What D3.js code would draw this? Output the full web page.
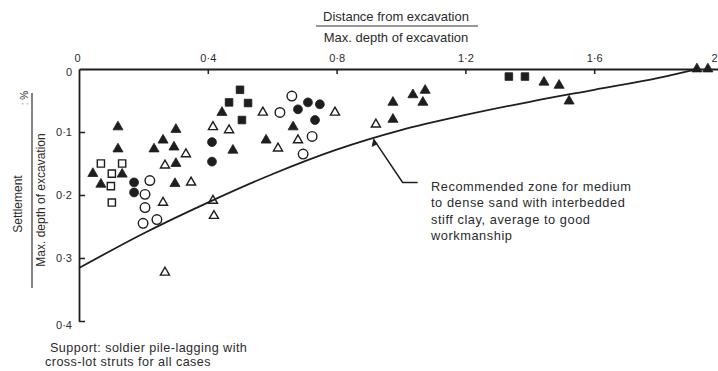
<!DOCTYPE html>
<html>
<head>
<meta charset="utf-8">
<script src="https://cdn.jsdelivr.net/npm/d3@7"></script>
<style>
  html, body { margin: 0; padding: 0; background: #fff; }
  svg { display: block; font-family: "Liberation Sans", Arial, sans-serif; }
  text { fill: #2b2b2b; }
</style>
</head>
<body>
<svg id="chart" width="718" height="371"></svg>
<script>
// Axis ticks (distance ratio along top, settlement % down the left)
const xTickValues = [0, 0.4, 0.8, 1.2, 1.6, 2];
const xTickLabels = ["0", "0·4", "0·8", "1·2", "1·6", "2"];
const yTickValues = [0, 0.1, 0.2, 0.3, 0.4];
const yTickLabels = ["0", "0·1", "0·2", "0·3", "0·4"];

// Observed settlements: [distance / max depth, settlement / max depth (%)]
const filledTriangles = [
  [0.121, 0.092], [0.121, 0.127], [0.043, 0.166], [0.134, 0.167], [0.068, 0.183],
  [0.301, 0.096], [0.261, 0.113], [0.233, 0.127], [0.295, 0.124], [0.301, 0.150],
  [0.298, 0.182], [0.444, 0.069], [0.478, 0.129], [0.581, 0.113], [0.665, 0.092],
  [0.975, 0.053], [0.975, 0.080], [1.037, 0.041], [1.075, 0.034], [1.068, 0.053],
  [1.444, 0.021], [1.491, 0.026], [1.522, 0.051], [1.919, 0.0], [1.953, 0.0]
];
const openTriangles = [
  [0.261, 0.212], [0.332, 0.135], [0.267, 0.153], [0.348, 0.180], [0.267, 0.323],
  [0.416, 0.209], [0.419, 0.233], [0.571, 0.069], [0.416, 0.092], [0.466, 0.097],
  [0.618, 0.126], [0.680, 0.113], [0.795, 0.069], [0.922, 0.088]
];
const filledCircles = [
  [0.171, 0.180], [0.171, 0.196], [0.413, 0.116], [0.413, 0.147],
  [0.711, 0.053], [0.748, 0.056], [0.680, 0.064], [0.733, 0.081]
];
const openCircles = [
  [0.220, 0.177], [0.205, 0.199], [0.205, 0.220], [0.199, 0.245], [0.242, 0.239],
  [0.624, 0.069], [0.661, 0.043], [0.724, 0.107], [0.696, 0.135]
];
const filledSquares = [
  [0.500, 0.033], [0.466, 0.053], [0.525, 0.054], [0.506, 0.081],
  [1.335, 0.012], [1.385, 0.012]
];
const openSquares = [
  [0.068, 0.150], [0.134, 0.150], [0.102, 0.166], [0.099, 0.186], [0.102, 0.212]
];

// Lower bound of the recommended zone
const zoneX = [0, 0.2, 0.4, 0.6, 0.8, 1.0, 1.2, 1.4, 1.6, 1.8, 1.92];
const zoneY = [0.316, 0.261, 0.212, 0.167, 0.128, 0.097, 0.073, 0.052, 0.033, 0.014, 0.0];

const svg = d3.select("#chart");
const ink = "#1e1e1e";

const x = d3.scaleLinear().domain([0, 2]).range([79, 723]);
const y = d3.scaleLinear().domain([0, 0.4]).range([69, 321]);

// Top axis with inward ticks
const xAxis = d3.axisTop(x)
  .tickValues(xTickValues)
  .tickFormat((d, i) => xTickLabels[i])
  .tickSizeInner(-5).tickSizeOuter(0).tickPadding(7);
const gx = svg.append("g").attr("transform", `translate(0,${y(0)})`).call(xAxis);
gx.selectAll(".tick line").filter(d => d === 0 || d === 2).remove();

// Left axis with inward ticks
const yAxis = d3.axisLeft(y)
  .tickValues(yTickValues)
  .tickFormat((d, i) => yTickLabels[i])
  .tickSizeInner(-6).tickSizeOuter(0).tickPadding(7);
const gy = svg.append("g").attr("transform", `translate(${x(0)},0)`).call(yAxis);
gy.selectAll(".tick line").filter(d => d === 0).remove();

[gx, gy].forEach(g => {
  g.select(".domain").attr("stroke", ink).attr("stroke-width", 1.8);
  g.selectAll(".tick line").attr("stroke", ink).attr("stroke-width", 1.5);
  g.selectAll(".tick text")
    .attr("font-size", 11).attr("fill", "#2b2b2b")
    .attr("font-family", "Liberation Sans, Arial, sans-serif");
});
gx.selectAll(".tick text").filter(d => d === 0).attr("dx", -2);
gx.selectAll(".tick text").filter(d => d === 2).attr("text-anchor", "end").attr("x", -6);
gy.selectAll(".tick text").filter(d => d === 0).attr("dy", "0.55em");
gy.selectAll(".tick text").filter(d => d === 0.4).attr("dy", "0.7em");

// Zone boundary curve
const zone = zoneX.map((v, i) => [v, zoneY[i]]);
svg.append("path")
  .datum(zone)
  .attr("d", d3.line().x(d => x(d[0])).y(d => y(d[1])).curve(d3.curveMonotoneX))
  .attr("fill", "none").attr("stroke", ink).attr("stroke-width", 1.8);

// Markers
function plot(data, type, size, filled) {
  svg.append("g").selectAll("path")
    .data(data).join("path")
    .attr("transform", d => `translate(${x(d[0])},${y(d[1])})`)
    .attr("d", d3.symbol().type(type).size(size))
    .attr("fill", filled ? ink : "none")
    .attr("stroke", ink)
    .attr("stroke-width", filled ? 0.8 : 1.4);
}
plot(filledTriangles, d3.symbolTriangle, 44, true);
plot(openTriangles, d3.symbolTriangle, 36, false);
plot(filledCircles, d3.symbolCircle, 62, true);
plot(openCircles, d3.symbolCircle, 72, false);
plot(filledSquares, d3.symbolSquare, 58, true);
plot(openSquares, d3.symbolSquare, 52, false);

// Top title as a fraction
const title = svg.append("g").attr("font-size", 13);
title.append("text").attr("x", 396).attr("y", 21).attr("text-anchor", "middle")
  .text("Distance from excavation");
title.append("line").attr("x1", 316).attr("x2", 478).attr("y1", 26).attr("y2", 26)
  .attr("stroke", "#333").attr("stroke-width", 1.2);
title.append("text").attr("x", 396).attr("y", 42).attr("text-anchor", "middle")
  .text("Max. depth of excavation");

// Left title as a rotated fraction
const ylab = svg.append("g").attr("font-size", 12);
ylab.append("text").attr("transform", "translate(22,204) rotate(-90)")
  .attr("text-anchor", "middle").text("Settlement");
ylab.append("line").attr("x1", 32).attr("x2", 32).attr("y1", 93).attr("y2", 288)
  .attr("stroke", "#333").attr("stroke-width", 1.2);
ylab.append("text").attr("transform", "translate(45,200) rotate(-90)")
  .attr("text-anchor", "middle").text("Max. depth of excavation");
ylab.append("text").attr("transform", "translate(28,98) rotate(-90)")
  .attr("text-anchor", "middle").attr("font-size", 10).text(": %");

// Leader from the curve to the zone note
const anchorX = 0.915;
const ax = x(anchorX), ay = y(d3.scaleLinear().domain(zoneX).range(zoneY)(anchorX)) + 1;
svg.append("path")
  .attr("d", `M${ax},${ay} L${ax + 29},${ay + 43} L${ax + 44},${ay + 43}`)
  .attr("fill", "none").attr("stroke", ink).attr("stroke-width", 1.5);
svg.append("path")
  .attr("d", `M${ax},${ay} l-1.5,7 l5,-2.5 z`)
  .attr("fill", ink).attr("stroke", ink).attr("stroke-width", 0.8);

const note = ["Recommended zone for medium", "to dense sand with interbedded",
              "stiff clay, average to good", "workmanship"];
svg.append("g").attr("font-size", 12.8).attr("letter-spacing", 0.55)
  .selectAll("text").data(note).join("text")
  .attr("x", 431).attr("y", (d, i) => 191 + i * 16.3).text(d => d);

// Footnote
const foot = ["Support: soldier pile-lagging with", "cross-lot struts for all cases"];
svg.append("g").attr("font-size", 12.6).attr("letter-spacing", 0.45)
  .selectAll("text").data(foot).join("text")
  .attr("x", (d, i) => i === 0 ? 50 : 45).attr("y", (d, i) => 352 + i * 14).text(d => d);
</script>
</body>
</html>
